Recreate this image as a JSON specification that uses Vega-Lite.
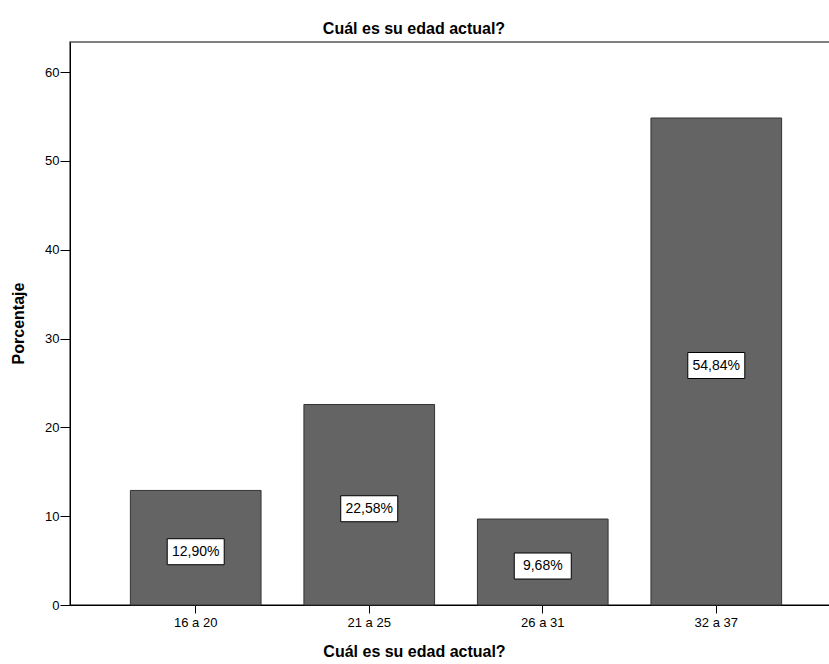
{
  "$schema": "https://vega.github.io/schema/vega-lite/v6.json",
  "width": 760,
  "height": 563,
  "autosize": {"type": "none"},
  "padding": {"left": 70, "top": 42, "right": 0, "bottom": 59},
  "background": "white",
  "title": {
    "text": "Cuál es su edad actual?",
    "font": "Liberation Sans",
    "fontSize": 16,
    "fontWeight": "bold",
    "color": "black",
    "anchor": "middle",
    "offset": 5,
    "dx": -36
  },
  "config": {
    "view": {"stroke": "#555555", "strokeWidth": 1.5},
    "axis": {
      "labelFont": "Liberation Sans",
      "titleFont": "Liberation Sans",
      "labelColor": "black",
      "titleColor": "black",
      "domainColor": "black",
      "tickColor": "black",
      "grid": false
    }
  },
  "data": {
    "values": [
      {"edad": "16 a 20", "pct": 12.90, "etiqueta": "12,90%"},
      {"edad": "21 a 25", "pct": 22.58, "etiqueta": "22,58%"},
      {"edad": "26 a 31", "pct": 9.68, "etiqueta": "9,68%"},
      {"edad": "32 a 37", "pct": 54.84, "etiqueta": "54,84%"}
    ]
  },
  "encoding": {
    "x": {
      "field": "edad",
      "type": "nominal",
      "sort": null,
      "scale": {"range": [0, 772], "paddingInner": 0.247, "paddingOuter": 0.348},
      "axis": {
        "labelAngle": 0,
        "labelFontSize": 13,
        "labelPadding": 3,
        "tickSize": 8,
        "title": "Cuál es su edad actual?",
        "titleFontSize": 16,
        "titleFontWeight": "bold",
        "titleX": 344,
        "titleY": 46,
        "titleAlign": "center",
        "titleBaseline": "middle"
      }
    }
  },
  "layer": [
    {
      "mark": {"type": "bar", "color": "#646464", "stroke": "#333333", "strokeWidth": 1},
      "encoding": {
        "y": {
          "field": "pct",
          "type": "quantitative",
          "scale": {"domain": [0, 63.4], "nice": false},
          "axis": {
            "values": [0, 10, 20, 30, 40, 50, 60],
            "labelFontSize": 13,
            "labelPadding": 1,
            "tickSize": 10,
            "title": "Porcentaje",
            "titleFontSize": 16,
            "titleFontWeight": "bold",
            "titleX": -52,
            "titleY": 281,
            "titleAngle": -90,
            "titleAlign": "center",
            "titleBaseline": "middle"
          }
        }
      }
    },
    {
      "transform": [{"calculate": "datum.pct / 2", "as": "mitad"}],
      "mark": {
        "type": "point",
        "shape": "M-1,-0.456L1,-0.456L1,0.456L-1,0.456Z",
        "filled": false,
        "fill": "white",
        "fillOpacity": 1,
        "stroke": "black",
        "strokeWidth": 1,
        "opacity": 1,
        "size": 3249,
        "yOffset": 4
      },
      "encoding": {
        "y": {"field": "mitad", "type": "quantitative"}
      }
    },
    {
      "transform": [{"calculate": "datum.pct / 2", "as": "mitad"}],
      "mark": {
        "type": "text",
        "font": "Liberation Sans",
        "fontSize": 14,
        "color": "black",
        "baseline": "middle",
        "align": "center",
        "yOffset": 4
      },
      "encoding": {
        "y": {"field": "mitad", "type": "quantitative"},
        "text": {"field": "etiqueta"}
      }
    }
  ]
}
